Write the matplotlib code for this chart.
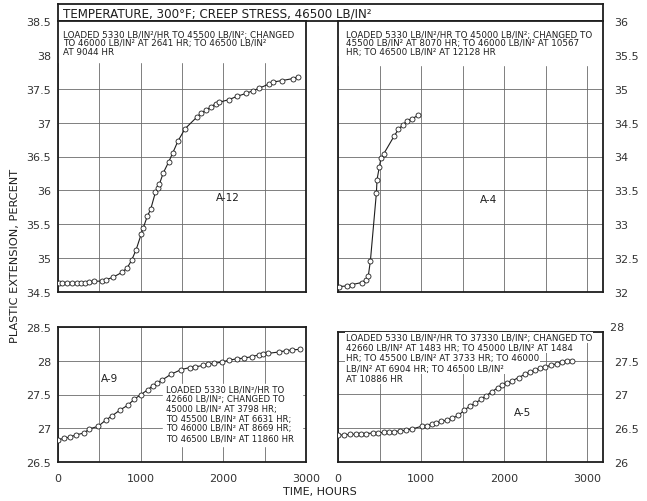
import matplotlib
matplotlib.use("Agg")
import matplotlib.pyplot as plt
from matplotlib.patches import Rectangle

W, H = 647, 502

# specimen A-12 (top left)
a12_hours = [8, 48, 105, 165, 226, 278, 327, 379, 436, 529, 581, 669, 774, 839, 891,
             944, 1008, 1032, 1081, 1121, 1178, 1210, 1226, 1274, 1339, 1387, 1452,
             1537, 1678, 1730, 1787, 1847, 1908, 1948, 2069, 2170, 2271, 2356, 2437,
             2553, 2605, 2707, 2840, 2908]
a12_ext = [34.64, 34.64, 34.63, 34.63, 34.63, 34.64, 34.64, 34.65, 34.66, 34.66, 34.68,
           34.72, 34.79, 34.86, 34.97, 35.12, 35.36, 35.45, 35.62, 35.72, 35.97, 36.03,
           36.09, 36.26, 36.42, 36.55, 36.73, 36.91, 37.08, 37.14, 37.18, 37.23, 37.28,
           37.30, 37.34, 37.39, 37.43, 37.47, 37.51, 37.57, 37.60, 37.62, 37.65, 37.68]

# specimen A-4 (top right)
a4_hours = [12, 112, 172, 285, 337, 365, 390, 462, 470, 498, 518, 551, 675, 727, 783,
            835, 896, 968]
a4_ext = [32.08, 32.09, 32.11, 32.14, 32.18, 32.24, 32.46, 33.46, 33.66, 33.85, 33.98,
          34.04, 34.30, 34.40, 34.47, 34.53, 34.56, 34.61]

# specimen A-9 (bottom left)
a9_hours = [4, 73, 145, 214, 315, 379, 488, 577, 650, 750, 843, 923, 1004, 1085, 1146,
            1202, 1254, 1367, 1492, 1597, 1658, 1758, 1819, 1888, 1980, 2073, 2170,
            2251, 2343, 2436, 2484, 2545, 2674, 2759, 2828, 2928]
a9_ext = [26.83, 26.85, 26.87, 26.90, 26.93, 26.99, 27.03, 27.12, 27.18, 27.27, 27.34,
          27.43, 27.50, 27.57, 27.63, 27.67, 27.71, 27.80, 27.87, 27.90, 27.91, 27.93,
          27.95, 27.96, 27.98, 28.01, 28.03, 28.04, 28.06, 28.09, 28.10, 28.11, 28.13,
          28.15, 28.16, 28.17]

# specimen A-5 (bottom right)
a5_hours = [4, 72, 145, 213, 277, 337, 426, 486, 554, 619, 679, 747, 816, 896, 1008,
            1069, 1129, 1177, 1241, 1310, 1377, 1450, 1522, 1591, 1651, 1724, 1780,
            1852, 1924, 1980, 2033, 2093, 2173, 2253, 2314, 2374, 2434, 2494, 2567,
            2635, 2695, 2756, 2816]
a5_ext = [26.40, 26.40, 26.41, 26.41, 26.42, 26.42, 26.43, 26.43, 26.44, 26.44, 26.45,
          26.46, 26.47, 26.49, 26.53, 26.54, 26.56, 26.58, 26.60, 26.62, 26.65, 26.69,
          26.77, 26.83, 26.87, 26.93, 26.98, 27.04, 27.10, 27.14, 27.17, 27.20, 27.25,
          27.30, 27.33, 27.36, 27.39, 27.40, 27.44, 27.45, 27.48, 27.49, 27.49]

title = "TEMPERATURE, 300°F; CREEP STRESS, 46500 LB/IN²"
note_a12 = ["LOADED 5330 LB/IN²/HR TO 45500 LB/IN²; CHANGED",
            "TO 46000 LB/IN² AT 2641 HR; TO 46500 LB/IN²",
            "AT 9044 HR"]
note_a4 = ["LOADED 5330 LB/IN²/HR TO 45000 LB/IN²; CHANGED TO",
           "45500 LB/IN² AT 8070 HR; TO 46000 LB/IN² AT 10567",
           "HR; TO 46500 LB/IN² AT 12128 HR"]
note_a9 = ["LOADED 5330 LB/IN²/HR TO",
           "42660 LB/IN²; CHANGED TO",
           "45000 LB/IN² AT 3798 HR;",
           "TO 45500 LB/IN² AT 6631 HR;",
           "TO 46000 LB/IN² AT 8669 HR;",
           "TO 46500 LB/IN² AT 11860 HR"]
note_a5 = ["LOADED 5330 LB/IN²/HR TO 37330 LB/IN²; CHANGED TO",
           "42660 LB/IN² AT 1483 HR; TO 45000 LB/IN² AT 1484",
           "HR; TO 45500 LB/IN² AT 3733 HR; TO 46000",
           "LB/IN² AT 6904 HR; TO 46500 LB/IN²",
           "AT 10886 HR"]

INK = "#1e1e1e"
GRID = "#6a6a6a"

plt.rcParams["font.family"] = "DejaVu Sans"


def box(x0, y0, x1, y1):
    # pixel box -> figure fraction rect
    return [x0 / W, 1 - y1 / H, (x1 - x0) / W, (y1 - y0) / H]


def setup(ax, ylim, yticks, xmax, right, xlabels):
    ax.set_xlim(0, xmax)
    ax.set_ylim(*ylim)
    ax.set_xticks([0, 1000, 2000, 3000])
    ax.set_xticks([500, 1500, 2500], minor=True)
    ax.set_yticks(yticks)
    ax.set_yticklabels([f"{v:g}" for v in yticks])
    if xlabels:
        ax.set_xticklabels(["0", "1000", "2000", "3000"])
    else:
        ax.set_xticklabels([])
    ax.grid(True, which="both", color=GRID, lw=0.6)
    ax.set_axisbelow(True)
    ax.tick_params(which="both", length=0, labelsize=8, labelcolor="#333333")
    ax.tick_params(axis="x", pad=8)
    if right:
        ax.yaxis.tick_right()
        ax.tick_params(axis="y", pad=8)
    else:
        ax.tick_params(axis="y", pad=5)
    for s in ax.spines.values():
        s.set_linewidth(1.3)
        s.set_color(INK)


def curve(ax, x, y):
    ax.plot(x, y, "-", color=INK, lw=0.8, zorder=4)
    ax.plot(x, y, "o", ms=3.6, mfc="white", mec=INK, mew=0.6, zorder=5)


def lines(ax, x, y_top, step, texts, fs, bg=False):
    for i, t in enumerate(texts):
        kw = {}
        if bg:
            kw["bbox"] = dict(fc="white", ec="none", pad=0.6)
        ax.text(x, y_top - i * step, t, transform=ax.transAxes, fontsize=fs,
                color=INK, va="center", ha="left", zorder=3, **kw)


fig = plt.figure(figsize=(W / 100, H / 100), dpi=100)

# title strip
tax = fig.add_axes(box(58, 5, 603, 22))
tax.set_xticks([])
tax.set_yticks([])
for s in tax.spines.values():
    s.set_linewidth(1.3)
    s.set_color(INK)
tax.text(0.009, 0.45, title, fontsize=8.6, color=INK, va="center", ha="left")

# A-12
ax1 = fig.add_axes(box(58, 22, 306, 293))
setup(ax1, (34.5, 38.5), [34.5, 35, 35.5, 36, 36.5, 37, 37.5, 38, 38.5], 3000, False, False)
ax1.axhspan(37.9, 38.5, color="white", zorder=1)
curve(ax1, a12_hours, a12_ext)
lines(ax1, 0.02, 0.952, 0.0314, note_a12, 6.3)
ax1.text(2050, 35.9, "A-12", fontsize=7.5, color=INK, ha="center", va="center")

# A-4
ax2 = fig.add_axes(box(338, 22, 603, 293))
setup(ax2, (32, 36), [32, 32.5, 33, 33.5, 34, 34.5, 35, 35.5, 36], 3190, True, False)
ax2.axhspan(35.35, 36, color="white", zorder=1)
curve(ax2, a4_hours, a4_ext)
lines(ax2, 0.03, 0.952, 0.0314, note_a4, 6.3)
ax2.text(1807, 33.38, "A-4", fontsize=7.5, color=INK, ha="center", va="center")

# A-9
ax3 = fig.add_axes(box(58, 328, 306, 463))
setup(ax3, (26.5, 28.5), [26.5, 27, 27.5, 28, 28.5], 3000, False, True)
ax3.add_patch(Rectangle((1270, 26.74), 1680, 0.92, color="white", zorder=1))
curve(ax3, a9_hours, a9_ext)
lines(ax3, 0.435, 0.54, 0.072, note_a9, 6.1)
ax3.text(629, 27.74, "A-9", fontsize=7.5, color=INK, ha="center", va="center")

# A-5
ax4 = fig.add_axes(box(338, 333, 603, 463))
setup(ax4, (26, 27.925), [26, 26.5, 27, 27.5], 3190, True, True)
ax4.text(1.0, 28, "  28", transform=ax4.get_yaxis_transform(), fontsize=8,
         color="#333333", va="center", ha="left", clip_on=False)
curve(ax4, a5_hours, a5_ext)
lines(ax4, 0.03, 0.96, 0.08, note_a5, 6.3, bg=True)
ax4.text(2217, 26.74, "A-5", fontsize=7.5, color=INK, ha="center", va="center")

fig.text(15 / W, 1 - 256 / H, "PLASTIC EXTENSION, PERCENT", rotation=90, fontsize=8.2,
         color=INK, ha="center", va="center")
fig.text(320 / W, 1 - 492 / H, "TIME, HOURS", fontsize=8, color=INK,
         ha="center", va="center")

fig.savefig("out.png", dpi=100)
